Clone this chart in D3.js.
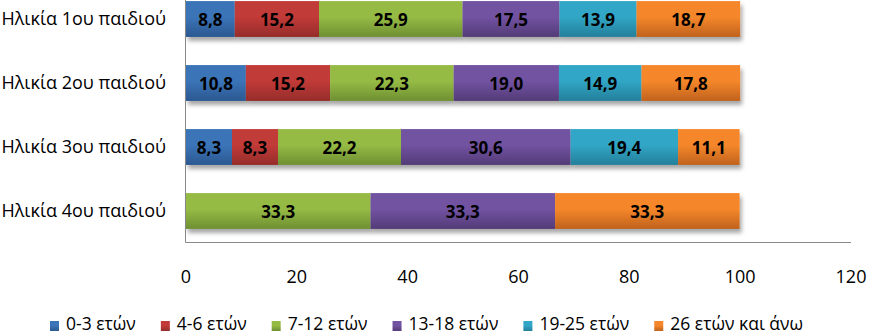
<!DOCTYPE html>
<html><head><meta charset="utf-8">
<script src="https://cdn.jsdelivr.net/npm/d3@7"></script>
<style>body{margin:0;background:#fff}svg{display:block}text{font-family:"Open Sans",sans-serif}</style>
</head><body>
<svg id="c" width="869" height="335"></svg>
<script>
const categories = ["Ηλικία 1ου παιδιού","Ηλικία 2ου παιδιού","Ηλικία 3ου παιδιού","Ηλικία 4ου παιδιού"];
const seriesNames = ["0-3 ετών","4-6 ετών","7-12 ετών","13-18 ετών","19-25 ετών","26 ετών και άνω"];
const s0_3 = [8.8, 10.8, 8.3, 0];
const s4_6 = [15.2, 15.2, 8.3, 0];
const s7_12 = [25.9, 22.3, 22.2, 33.3];
const s13_18 = [17.5, 19.0, 30.6, 33.3];
const s19_25 = [13.9, 14.9, 19.4, 0];
const s26 = [18.7, 17.8, 11.1, 33.3];
const xTicks = [0,20,40,60,80,100,120];
const seriesValues = [s0_3, s4_6, s7_12, s13_18, s19_25, s26];
const colorsTop = ["#3b74b8","#c13a38","#96bb45","#7252a2","#31a6c6","#f5872b"];
const colorsBot = ["#2b5890","#952d2a","#6e8f32","#533b77","#247f9a","#c0621d"];

const svg = d3.select("#c");
const defs = svg.append("defs");
const f = defs.append("filter").attr("id","sh").attr("x","-5%").attr("y","-20%").attr("width","115%").attr("height","160%");
f.append("feDropShadow").attr("dx",2).attr("dy",4).attr("stdDeviation",2).attr("flood-color","#000").attr("flood-opacity",0.35);
seriesNames.forEach((n,i)=>{
  const g = defs.append("linearGradient").attr("id","g"+i).attr("x1",0).attr("y1",0).attr("x2",0).attr("y2",1);
  g.append("stop").attr("offset","0%").attr("stop-color",colorsTop[i]);
  g.append("stop").attr("offset","45%").attr("stop-color",colorsTop[i]);
  g.append("stop").attr("offset","100%").attr("stop-color",colorsBot[i]);
});

const x = d3.scaleLinear().domain([0,120]).range([186,851]);
const y = d3.scaleBand().domain(categories).range([-13, 243]).paddingInner(0.44).paddingOuter(0.22);

const rows = categories.map((c,ci)=>{
  const r = {cat:c};
  seriesNames.forEach((s,si)=>r[s]=seriesValues[si][ci]);
  return r;
});
const stacked = d3.stack().keys(seriesNames)(rows);

const rowG = svg.append("g");
categories.forEach((c,ci)=>{
  const g = rowG.append("g").attr("filter","url(#sh)");
  stacked.forEach((layer,si)=>{
    const d = layer[ci];
    if (d[1]-d[0] <= 0) return;
    g.append("rect").attr("x",x(d[0])).attr("y",y(c)).attr("width",x(d[1])-x(d[0])).attr("height",y.bandwidth())
      .attr("fill","url(#g"+si+")");
  });
});
stacked.forEach((layer,si)=>{
  layer.forEach((d,ci)=>{
    const v = d[1]-d[0];
    if (v<=0) return;
    svg.append("text").attr("x",(x(d[0])+x(d[1]))/2).attr("y",y(categories[ci])+y.bandwidth()/2+2)
      .attr("text-anchor","middle").attr("dominant-baseline","middle")
      .attr("font-size",17).attr("font-weight","bold").attr("fill","#000")
      .text(seriesValues[si][ci].toFixed(1).replace(".",","));
  });
});

svg.append("line").attr("x1",185.5).attr("x2",185.5).attr("y1",0).attr("y2",242.5).attr("stroke","#888").attr("stroke-width",1);
svg.append("line").attr("x1",185.5).attr("x2",851).attr("y1",242.5).attr("y2",242.5).attr("stroke","#888").attr("stroke-width",1);

categories.forEach(c=>{
  svg.append("text").attr("x",166).attr("y",y(c)+y.bandwidth()/2+1).attr("text-anchor","end")
    .attr("dominant-baseline","middle").attr("font-size",18).attr("fill","#000").text(c);
});
xTicks.forEach(t=>{
  svg.append("text").attr("x",x(t)).attr("y",278).attr("text-anchor","middle").attr("dominant-baseline","middle")
    .attr("font-size",18).attr("fill","#000").text(t);
});

const lg = svg.append("g");
let lx = 50;
seriesNames.forEach((n,i)=>{
  lg.append("rect").attr("x",lx).attr("y",321).attr("width",9).attr("height",10).attr("fill","url(#g"+i+")");
  const t = lg.append("text").attr("x",lx+16).attr("y",325).attr("dominant-baseline","middle")
    .attr("font-size",17.5).attr("fill","#000").text(n);
  lx += 16 + t.node().getComputedTextLength() + 25;
});
</script>
</body></html>
